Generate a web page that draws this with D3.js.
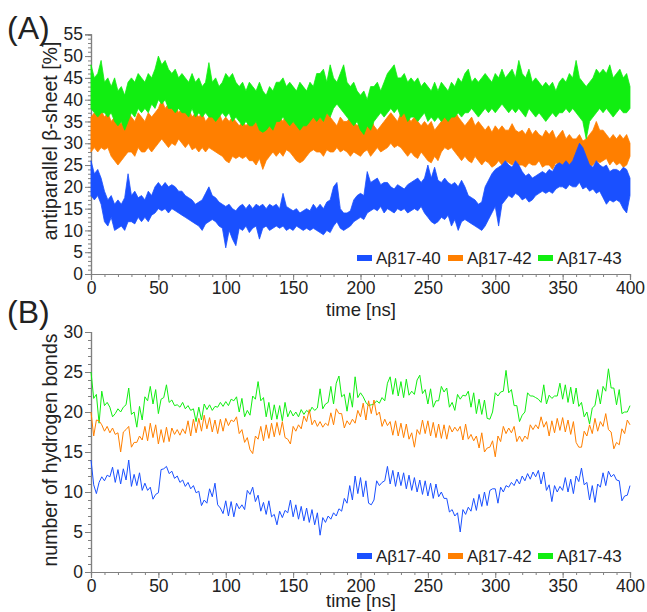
<!DOCTYPE html>
<html>
  <head>
    <title>Antiparallel beta-sheet and hydrogen bonds</title>
    <meta charset="utf-8">
    <script src="https://cdn.jsdelivr.net/npm/d3@7"></script>
    <style>
      body {margin:0; background:#fff;}
      text {font-family: "Liberation Sans", Arial, sans-serif; fill:#222;}
    </style>
  </head>
  <body>
  <script>
    // ---- data ----
    var seriesNames = ["A\u03b217-40", "A\u03b217-42", "A\u03b217-43"];
    var colors = ["#1a50ff", "#ff7f00", "#11ee11"];

    // panel A: per 2.5 ns bin, upper and lower edge of the trace [%]
    var tA = d3.range(0, 400.01, 2.5);
    var a40hi = [26,23,24,22, 19,17,18,16, 17,16,17.5,23, 18,19,17.5,18, 17,19,18,20,
      21,20,21,20, 20.5,20,19,19, 18,17.5,17,16, 16.5,17,18.5,20, 18,17.5,16.5,16,
      15.5,16,15,14.5, 15.5,16,15,16, 15,16,15.5,16, 15,16,15.5,16, 15,18.5,15.5,15,
      14.5,15,14,14.5, 15,14.5,16,15, 16,15,16.5,17, 20,21,15,14, 14,14.5,17,18,
      18.5,18,23.5,21, 21.5,22,20.5,21, 21,20,19.5,20.5, 20,19.5,20.5,21, 21.5,22,21,22,
      25,22,24.5,21.5, 21,22,21,20.5, 21,20,21.5,20, 18,17.5,17,16, 16.5,20,21.5,23,
      24,24.5,25,26, 25,24.5,26,25, 23.5,22.5,23,22, 22.5,23,23.5,23, 24,23.5,25,25.5,
      25,26,25,26, 28,30,29,27, 25,24.5,26,25, 24.5,25,23.5,24, 24,23.5,24.5,24, 22];
    var a40lo = [18,17,18,16, 12,11,13,10, 10.5,11,10,12, 12,11.5,13,12, 13,12,13.5,14,
      15,14.5,15,14, 15,14.5,14,13.5, 13,12.5,12,11.5, 11,10,11.5,12, 12.5,12,11,10.5,
      6,10,8,6.5, 10.5,10,11,9.5, 10.5,11,8,10.5, 11,10,10.5,11, 10.5,11,10,10.5,
      10,11,10.5,10, 10.5,10,10.5,10, 9.5,9,10,9.5, 11,12,10.5,10, 10.5,11,12,12.5,
      13,12.5,14,14.5, 15,14.5,15.5,14, 15,14.5,14,15, 14.5,15,14,14.5, 15,14.5,15.5,14,
      13,12,11.5,12, 13,12.5,13.5,11, 12.5,10,12,12.5, 12,11.5,11,10.5, 10,11,12.5,14,
      15.5,11,16,17, 18,17.5,18.5,18, 17,17.5,16.5,17, 18,18.5,19,18.5, 19,18.5,19.5,20,
      20,19.5,20.5,20, 20,21,19.5,20, 19,19.5,18.5,19, 17.5,16,17,16.5, 17,16.5,15,14, 18];
    var a42hi = [36,37,36,37.5, 36,37,35,36, 35,34.5,36,37, 36,35,37,36, 35,37,36,37,
      38,40,38,39, 38,39,37,38, 37,38,36,37, 36,37,35,36, 37,36,37,35,
      36,35,36,35, 34,35,34,35, 34,35,33,35, 36,35,36,37, 36,35,37,36,
      35,34,36,35, 35,36,37,36, 36,35,37,36, 35,34,36,35, 35,36,35,34,
      35,34,35,36, 34,33,34,35, 36,37,36,35, 37,37.5,36,35, 36,35,34,35,
      34,35,33,34, 35,37,36,37, 37.5,36,35,34, 35,36,34,35, 34,33,34,32.5,
      34,33,34,33, 33,34.5,33,32.5, 33,32,33.5,32, 33,32,31.5,33, 32,33,31,32,
      33,31,32,31, 31,32,30.5,31, 32,33,35,33, 33,32,31,32, 31,32,31,32, 30];
    var a42lo = [28,29,28,29, 28.5,29,27,26, 25,26,27,28, 28,27,29,28, 28,29,28,29,
      30,31,30,29, 30,29.5,31,30, 29,30,28.5,29, 28,29,28,29, 28.5,28,27.5,27,
      26,25.5,27,26.5, 27,26.5,27,26, 26,25,26.5,24, 26,27,28,27, 28,27,28.5,28,
      27,26,25.5,26, 27,28,28.5,28, 28,27,28.5,28, 28,29,28,28.5, 28,27,28,27.5,
      27,28,28.5,27, 28,29,28,28.5, 29,30,29,29.5, 29,28,27,28, 27,26.5,28,27,
      26,25.5,27,26, 28,29,28.5,29, 28,27,26,27, 26,25.5,27,26, 25,26,25.5,24.5,
      25,26,25,26, 25.5,25,26,25, 25,24.5,25.5,25, 25,26,24.5,25, 25,24,25.5,25,
      24.5,25,24,25, 24,23,25,24, 24.5,25,26,25.5, 26,26.5,25,26, 25,25.5,24.5,25, 27];
    var a43hi = [48,45,46,49, 44,45,43,45, 42,43,41,44, 45,44,46,45, 44,46,45,47,
      50,48,49,47, 46,47,45,46, 45,44,46,44, 45,43,44,48.5, 44,45,43,44,
      46,45,46,44, 43,44,42,44, 43,42,44,42, 41,43,42,44, 44,45,43,44,
      43,42,44,43, 42,44,43,46, 46,47,44,48, 45,44,46,48, 44,43,44,42,
      41,42,40,43, 43,44,42,44, 46,47,48,45, 45,46,44,45, 44,45,43,44,
      43,42,44,42, 44,43,42,44, 43,45,44,46, 47,44,45,44, 45,46,45,44,
      46,45,47,45, 46,47,45,49, 46,45,47,44, 45,44,43,44, 43,44,42,44,
      45,44,46,45, 49,45,44,43, 44,45,47,46, 47,46,48,45, 46,47,45,46, 43];
    var a43lo = [38,37,36,37, 37,36,37,35, 34,35,33,35, 37,36,38,37, 38,37,39,38,
      40,39,40,38, 38,37,38,37, 37,36,38,36, 37,36,37,36, 36,35,36,37,
      36,37,35,36, 35,34,35,34, 34,35,33,32.5, 33,34,33,35, 35,36,35,34,
      35,34,33,34, 34,35,36,35, 36,35,37,36, 38,39,38,37, 36,35,34,35,
      33,32,34,33, 35,36,37,36, 37,38,37,38, 36,37,35,36, 36,35,36,37,
      35,36,35,36, 35,36,35,36, 36,37,36,37, 37,38,37,36, 37,38,37,38,
      37,38,39,38, 37,38,37,38, 37,36,38,37, 36,37,36,35, 36,37,36,37,
      37,38,37,38, 37,36,35,31, 35,36,37,38, 37,38,37,36, 37,38,37,37, 38];

    // panel B: number of hydrogen bonds every 2 ns
    var tB = d3.range(0, 400.01, 2);
    var b40 = [14.0,10.9,9.8,11.2,11.9, 11.4,12.1,11.9,13.1,11.2, 12.8,11.0,12.9,11.5,14.0,
      10.7,12.2,10.8,12.4,10.2, 11.1,10.2,10.6,9.1,9.7, 9.9,12.8,12.9,13.2,12.3,
      12.6,11.7,12.0,11.2,11.5, 10.7,11.2,10.4,10.8,9.9, 10.1,8.3,9.0,8.6,10.4,
      9.4,11.1,8.4,8.0,7.3, 8.9,7.0,8.8,6.9,8.6, 7.9,8.4,7.8,10.2,9.7,
      10.6,8.8,9.6,7.6,8.7, 7.2,8.9,6.9,7.2,5.9, 7.6,6.8,7.7,7.4,9.0,
      6.9,8.4,6.6,8.2,6.4, 8.0,6.2,7.8,5.9,7.4, 4.6,6.8,6.2,7.0,6.6,
      7.4,7.0,7.9,7.6,9.2, 8.6,10.8,9.0,12.0,9.8, 11.8,9.4,11.4,8.6,8.4,
      9.0,11.4,10.8,11.2,11.4, 13.2,11.0,12.7,10.7,12.5, 10.8,12.4,10.4,12.1,10.2,
      11.8,10.0,11.5,9.7,11.4, 9.5,11.1,9.2,11.0,9.4, 10.0,9.2,9.2,7.5,7.8,
      7.0,7.4,5.0,7.8,7.2, 8.1,7.6,9.2,7.7,9.7, 8.2,10.0,8.3,10.2,10.4,
      10.4,8.6,10.6,10.0,10.8, 10.6,11.2,10.8,11.6,11.0, 12.0,11.4,12.3,11.6,12.5,
      11.9,12.7,11.0,12.5,10.2, 10.9,8.8,10.8,10.0,10.7, 10.2,11.8,10.0,11.6,9.8,
      12.0,11.3,13.0,10.9,11.2, 9.0,10.8,8.7,11.0,10.6, 12.4,10.8,12.6,11.9,12.2,
      11.5,11.4,8.9,9.5,9.6, 10.8];
    var b42 = [20.0,17.0,19.0,18.9,18.4, 17.6,18.2,17.4,18.0,17.2, 17.4,15.0,17.5,17.8,18.2,
      15.6,16.2,16.2,17.0,16.5, 18.2,16.4,18.6,16.8,18.4, 16.0,17.8,16.2,18.1,16.3,
      18.0,17.2,17.8,17.1,17.9, 17.3,18.9,17.0,19.1,17.4, 19.2,17.6,19.6,17.9,19.3,
      17.5,19.0,17.3,19.1,17.6, 19.2,18.3,19.0,18.8,19.4, 17.3,17.8,16.2,16.8,15.3,
      14.8,17.0,16.6,18.2,16.4, 18.4,16.7,18.6,16.9,18.7, 17.1,18.8,16.8,16.6,16.0,
      18.2,17.6,18.4,17.9,19.5, 18.8,20.3,18.4,19.0,18.2, 18.8,18.1,18.6,18.3,19.9,
      18.4,20.4,19.8,19.8,18.0, 18.9,18.4,19.1,18.6,20.2, 19.4,21.1,19.0,21.4,19.8,
      21.5,19.6,20.0,18.2,19.1, 18.3,18.8,17.1,18.9,17.0, 18.6,16.8,18.5,16.6,17.4,
      15.6,17.8,17.2,19.0,17.3, 18.9,17.0,18.7,16.8,18.5, 16.7,18.4,16.6,18.3,17.5,
      18.1,17.6,18.2,16.5,18.5, 16.6,17.2,16.4,17.0,15.5, 17.4,15.0,15.5,15.6,16.4,
      14.4,17.0,16.3,18.2,17.3, 18.0,17.4,18.2,16.3,17.0, 16.3,17.0,16.6,18.4,17.8,
      18.4,17.9,19.4,18.1,18.8, 17.0,18.9,17.4,19.2,17.7, 19.3,17.5,19.0,17.2,18.8,
      16.2,15.6,15.6,17.6,17.0, 18.4,17.3,19.2,17.6,18.8, 18.2,19.8,17.8,17.5,15.4,
      16.2,15.9,17.9,17.3,19.0, 18.4];
    var b43 = [25.0,21.7,22.2,18.6,22.6, 20.8,21.2,20.6,19.4,19.8, 20.4,20.0,20.6,20.9,23.0,
      19.7,20.0,18.1,20.7,19.0, 21.9,21.4,23.2,21.0,22.8, 19.8,21.6,21.8,23.4,21.2,
      21.5,20.8,20.9,20.6,21.2, 20.4,20.8,20.2,20.4,18.8, 20.6,19.0,21.0,20.3,20.9,
      20.2,20.7,20.6,21.2,20.7, 21.3,20.8,21.6,21.4,21.9, 20.0,21.7,19.4,20.2,19.6,
      22.0,21.6,23.8,21.4,21.8, 19.4,21.2,19.0,20.9,19.1, 20.8,18.9,21.2,19.4,20.2,
      19.5,20.0,19.4,20.3,19.7, 20.2,19.9,20.6,20.2,20.5, 22.9,20.4,21.0,21.2,23.2,
      21.0,23.6,24.5,21.9,22.2, 20.1,22.4,20.6,24.4,21.8, 22.4,21.9,21.2,20.8,20.9,
      21.0,21.4,21.1,21.8,21.4, 23.6,24.4,22.2,24.2,22.0, 23.8,21.8,24.1,22.1,22.6,
      22.2,24.0,24.6,22.3,22.8, 21.0,22.9,20.6,21.4,21.4, 23.2,22.5,23.0,20.6,21.2,
      20.2,22.2,21.6,22.1,22.0, 22.6,20.6,22.4,19.8,21.6, 19.7,21.5,19.2,19.1,20.0,
      22.4,22.0,22.5,22.6,25.2, 22.4,22.8,20.8,20.8,18.8, 19.6,20.0,22.4,22.0,22.0,
      21.8,21.6,21.2,23.4,21.0, 22.1,21.7,22.0,22.0,23.6, 21.6,23.4,21.2,23.1,21.0,
      23.0,20.7,21.2,19.4,20.0, 18.5,20.5,20.8,22.8,21.0, 23.2,22.6,25.4,23.0,23.0,
      20.9,22.8,19.8,20.0,20.0, 20.8];

    var xTicks = [0, 50, 100, 150, 200, 250, 300, 350, 400];
    var yTicksA = [0, 5, 10, 15, 20, 25, 30, 35, 40, 45, 50, 55];
    var yTicksB = [0, 5, 10, 15, 20, 25, 30];

    // ---- drawing ----
    var width = 647;
    var height = 612;
    var axisColor = "#808080";

    var canvas = d3.select("body")
        .append("svg")
        .attr("width", width)
        .attr("height", height);

    var x = d3.scaleLinear().domain([0, 400]).range([91, 630]);
    var yA = d3.scaleLinear().domain([0, 55]).range([274, 34.3]);
    var yB = d3.scaleLinear().domain([0, 30]).range([572, 332]);

    function drawAxes(y, yTicks, yMax, x0, y0) {
        // minor ticks first
        canvas.append("g")
            .attr("transform", "translate(" + x0 + ",0)")
            .call(d3.axisLeft(y).tickValues(d3.range(0, yMax + 1, 1)).tickSize(3).tickFormat(""))
            .call(styleAxis);
        canvas.append("g")
            .attr("transform", "translate(0," + y0 + ")")
            .call(d3.axisBottom(x).tickValues(d3.range(0, 401, 10)).tickSize(3).tickFormat(""))
            .call(styleAxis);
        // major ticks with labels
        canvas.append("g")
            .attr("transform", "translate(" + x0 + ",0)")
            .call(d3.axisLeft(y).tickValues(yTicks).tickSize(6).tickPadding(2))
            .call(styleAxis);
        canvas.append("g")
            .attr("transform", "translate(0," + y0 + ")")
            .call(d3.axisBottom(x).tickValues(xTicks).tickSize(6).tickPadding(2))
            .call(styleAxis);
    }

    function styleAxis(g) {
        g.select(".domain").attr("stroke", axisColor).attr("stroke-width", 1.2);
        g.selectAll(".tick line").attr("stroke", axisColor);
        g.selectAll(".tick text")
            .attr("fill", "#222")
            .style("font-size", "17.5px")
            .style("font-family", "'Liberation Sans', Arial, sans-serif");
    }

    drawAxes(yA, yTicksA, 55, 91, 274);
    drawAxes(yB, yTicksB, 30, 91, 572);

    // panel A traces: filled band between the upper and lower edge of each bin
    var areaA = d3.area()
        .x(function(d, i) { return x(tA[i]); })
        .y0(function(d) { return yA(d[1]); })
        .y1(function(d) { return yA(d[0]); });

    var tracesA = [
        {c: colors[1], hi: a42hi, lo: a42lo},
        {c: colors[0], hi: a40hi, lo: a40lo},
        {c: colors[2], hi: a43hi, lo: a43lo}
    ];
    tracesA.forEach(function(s) {
        canvas.append("path")
            .attr("d", areaA(s.hi.map(function(h, i) { return [h, s.lo[i]]; })))
            .attr("fill", s.c)
            .attr("stroke", s.c)
            .attr("stroke-width", 0.8)
            .attr("stroke-linejoin", "round");
    });

    // panel B traces
    var lineB = d3.line()
        .x(function(d, i) { return x(tB[i]); })
        .y(function(d) { return yB(d); });

    [[b40, colors[0]], [b43, colors[2]], [b42, colors[1]]].forEach(function(s) {
        canvas.append("path")
            .attr("d", lineB(s[0]))
            .attr("fill", "none")
            .attr("stroke", s[1])
            .attr("stroke-width", 1);
    });

    // legends
    function legend(yc) {
        var xs = [357, 448, 538];
        seriesNames.forEach(function(name, i) {
            canvas.append("rect")
                .attr("x", xs[i]).attr("y", yc - 3)
                .attr("width", 15).attr("height", 6)
                .attr("fill", colors[i]);
            canvas.append("text")
                .attr("x", xs[i] + 19).attr("y", yc + 6)
                .style("font-size", "17px")
                .text(name);
        });
    }
    legend(258);
    legend(556);

    // titles and axis labels
    canvas.append("text").attr("x", 7).attr("y", 39).style("font-size", "32px").text("(A)");
    canvas.append("text").attr("x", 7).attr("y", 323).style("font-size", "32px").text("(B)");

    canvas.append("text")
        .attr("transform", "translate(57,141) rotate(-90)")
        .attr("text-anchor", "middle")
        .style("font-size", "19.5px")
        .text("antiparallel \u03b2-sheet [%]");
    canvas.append("text")
        .attr("transform", "translate(57,450) rotate(-90)")
        .attr("text-anchor", "middle")
        .style("font-size", "19.5px")
        .text("number of hydrogen bonds");

    canvas.append("text").attr("x", 361).attr("y", 316)
        .attr("text-anchor", "middle").style("font-size", "18.5px").text("time [ns]");
    canvas.append("text").attr("x", 361).attr("y", 607)
        .attr("text-anchor", "middle").style("font-size", "18.5px").text("time [ns]");
  </script>
  </body>
</html>
